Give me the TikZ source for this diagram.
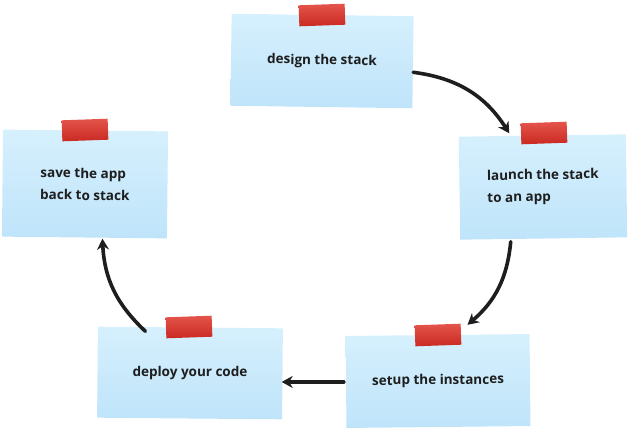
\documentclass[tikz,border=0pt]{standalone}
\usepackage{fontspec}
\setmainfont{Open Sans}
\usepackage{tikz}
\usetikzlibrary{positioning, arrows.meta, calc}
\definecolor{notetop}{HTML}{D6F0FD}
\definecolor{notebot}{HTML}{BFE4FA}
\definecolor{tapered}{HTML}{E0362B}
\definecolor{tapedark}{HTML}{C92A22}
\definecolor{ink}{HTML}{1E1E1E}

\begin{document}
\begin{tikzpicture}[
  x=1pt, y=-1pt,
  every node/.style={font=\fontsize{13.5}{22}\selectfont\bfseries, text=ink},
  note/.style={
    rectangle, top color=notetop, bottom color=notebot, draw=none,
    minimum width=182pt, minimum height=92pt, align=left,
    inner sep=0pt,
  },
  tape/.style={
    rectangle, top color=tapered!85!white, bottom color=tapedark, draw=none,
    minimum width=46pt, minimum height=21pt, inner sep=0pt, rotate=2,
  },
  flow/.style={-{Stealth[length=11pt,width=12pt]}, line width=3.6pt, draw=ink, line cap=round},
]
\useasboundingbox (0,0) rectangle (630,429);

\node[note, rotate=-0.8]                          (design) at (322,61)  {design the stack};
\node[note, minimum width=167pt, minimum height=103pt, rotate=0.8] (launch) at (543,187) {launch the stack\\to an app};
\node[note, minimum width=184pt, minimum height=92pt, rotate=0.6]  (setup)  at (438,381) {setup the instances};
\node[note, minimum width=185pt, minimum height=91pt, rotate=-0.5] (deploy) at (190,373) {deploy your code};
\node[note, minimum width=165pt, minimum height=107pt, rotate=-0.6] (save)  at (85,184)  {save the app\\back to stack};

\node[tape] (tapeA) at (322,15)  {};
\node[tape] (tapeB) at (544,133) {};
\node[tape] (tapeC) at (438,335) {};
\node[tape] (tapeD) at (189,327) {};
\node[tape] (tapeE) at (85,130)  {};

\draw[flow] ([yshift=-10pt]design.east) to[bend left=25] ([xshift=-33pt,yshift=2pt]launch.north);
\draw[flow] ([xshift=-33pt,yshift=-3pt]launch.south) to[bend left=22] ([xshift=30pt,yshift=10pt]setup.north);
\draw[flow] ([xshift=-2pt]setup.west) -- ([xshift=-1pt]setup.west -| deploy.east);
\draw[flow] ([xshift=-45pt,yshift=-4pt]deploy.north) to[bend left=22] ([xshift=18pt,yshift=-1pt]save.south);
\end{tikzpicture}
\end{document}
